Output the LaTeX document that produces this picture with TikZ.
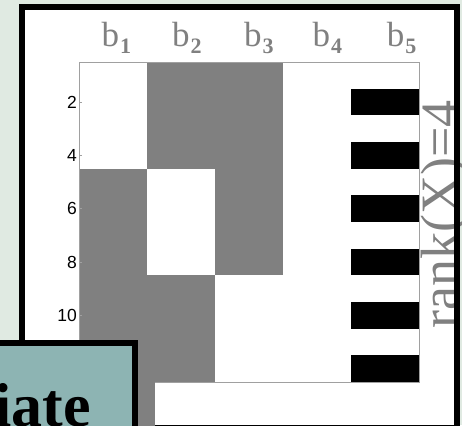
\documentclass[tikz,border=0pt]{standalone}
\usepackage{fontspec}
\setmainfont{Liberation Serif}
\setsansfont{Liberation Sans}
\definecolor{slidebg}{RGB}{224,234,226}
\definecolor{cellgray}{RGB}{128,128,128}
\definecolor{axisgray}{RGB}{160,160,160}
\definecolor{labelgray}{RGB}{128,128,128}
\definecolor{tealbox}{RGB}{141,180,179}
\begin{document}
\begin{tikzpicture}[x=1pt,y=-1pt,
  graycell/.style={fill=cellgray},
  blackcell/.style={fill=black},
  axisframe/.style={draw=axisgray,line width=0.9pt},
  ticklabel/.style={font=\sffamily\fontsize{17.5}{17.5}\selectfont,anchor=east,inner sep=0pt},
  collabel/.style={text=labelgray,anchor=base west,inner sep=0pt,font=\fontsize{35}{35}\selectfont},
  panelborder/.style={draw=black,line width=6pt},
]
\useasboundingbox (0,0) rectangle (462,425);
\clip (0,0) rectangle (462,425);
% slide background
\fill[slidebg] (0,0) rectangle (462,425);
% white figure panel
\fill[white] (22,7) rectangle (457,428);

% heat map cells (12 rows x 5 columns, row height 26.667)
\def\rh{26.6667}
\fill[graycell] (79,{62+4*\rh}) rectangle (147,382);
\fill[graycell] (147,62) rectangle (215,{62+4*\rh});
\fill[graycell] (147,{62+8*\rh}) rectangle (215,382);
\fill[graycell] (215,62) rectangle (283,{62+8*\rh});
\foreach \r in {2,4,...,12}
  \fill[blackcell] (351,{62+(\r-1)*\rh}) rectangle (419,{62+\r*\rh});

% axes frame and ticks
\draw[axisframe] (79,62) rectangle (419,382);
\foreach \t in {2,4,6,8,10}{
  \draw[axisgray,line width=0.8pt] (79,{62+(\t-0.5)*\rh}) -- (82,{62+(\t-0.5)*\rh});
  \node[ticklabel] (tick\t) at (77,{62+(\t-0.5)*\rh}) {\t};
}

% column labels
\newcommand{\collab}[1]{b\kern1pt\raisebox{-6.6pt}{\fontsize{22}{22}\selectfont\bfseries #1}}
\node[collabel] (b1) at (101.3,46.7) {\collab{1}};
\node[collabel] (b2) at (171.9,46.7) {\collab{2}};
\node[collabel] (b3) at (243.9,46.7) {\collab{3}};
\node[collabel] (b4) at (312.3,46.7) {\collab{4}};
\node[collabel] (b5) at (386.6,46.7) {\collab{5}};

% rank annotation, its baseline tucked under the panel's right border
\node[text=labelgray,rotate=90,anchor=base,inner sep=0pt,font=\fontsize{54}{54}\selectfont] (rank) at (458,214.5) {rank(X)=4};

% panel border
\draw[panelborder] (22,7) rectangle (457,428);

% title box with shadow
\fill[cellgray] (138,357) rectangle (155,440);
\filldraw[fill=tealbox,draw=black,line width=6pt] (-20,343) rectangle (135.3,450);
\node[anchor=base east,inner sep=0pt,font=\bfseries\fontsize{62}{62}\selectfont] (title) at (91,426) {iate};
\end{tikzpicture}
\end{document}
